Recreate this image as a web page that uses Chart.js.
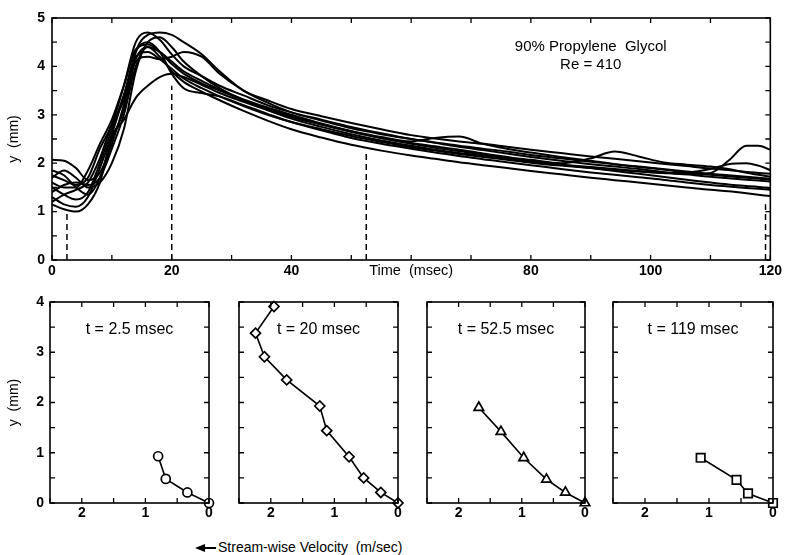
<!DOCTYPE html>
<html>
<head>
<meta charset="utf-8">
<script src="https://cdn.jsdelivr.net/npm/chart.js@4.4.1/dist/chart.umd.min.js"></script>
<style>
    body { margin: 0; background: #fff; }
    #wrap { position: relative; width: 785px; height: 555px; overflow: hidden; }
    canvas { position: absolute; }
    #vel {
        position: absolute; top: 539px; left: 195px;
        font: 14px "Liberation Sans", Arial, sans-serif; color: #000; white-space: pre;
    }
    #vel .head {
        display: inline-block; vertical-align: middle;
        border-top: 4px solid transparent; border-bottom: 4px solid transparent;
        border-right: 10px solid #000;
    }
    #vel .shaft {
        display: inline-block; vertical-align: middle;
        width: 11px; height: 2px; background: #000; margin-right: 2px;
    }
</style>
</head>
<body>
<div id="wrap">
    <canvas id="top" width="785" height="290" style="left:0;top:0"></canvas>
    <canvas id="p1"></canvas>
    <canvas id="p2"></canvas>
    <canvas id="p3"></canvas>
    <canvas id="p4"></canvas>
    <div id="vel"><span class="head"></span><span class="shaft"></span>Stream-wise Velocity  (m/sec)</div>
</div>

<script>
// time samples (msec) shared by all traces of the upper plot
const times = [0, 2, 4, 6, 8, 10, 12, 14, 16, 18, 20, 22, 25, 28, 32, 36, 40, 45, 50, 55,
    60, 64, 68, 72, 76, 80, 85, 90, 94, 98, 102, 106, 110, 113, 116, 118, 120];

// y (mm) of each trace
const run1 = [1.75, 1.65, 1.55, 1.7, 2.3, 2.8, 3.6, 4.5, 4.7, 4.55, 4.25, 4.0, 3.8, 3.6, 3.4, 3.2, 3.05, 2.9, 2.75, 2.62,
    2.5, 2.42, 2.34, 2.27, 2.2, 2.13, 2.05, 1.98, 1.93, 1.88, 1.82, 1.77, 1.72, 1.69, 1.66, 1.64, 1.62];
const run2 = [2.07, 2.05, 1.9, 1.65, 1.8, 2.4, 3.2, 4.3, 4.65, 4.7, 4.65, 4.5, 4.25, 3.9, 3.5, 3.3, 3.12, 2.97, 2.83, 2.7,
    2.58, 2.51, 2.45, 2.4, 2.34, 2.28, 2.21, 2.14, 2.09, 2.04, 1.99, 1.94, 1.89, 1.86, 1.82, 1.8, 1.78];
const run3 = [1.15, 1.05, 1.0, 1.15, 1.6, 2.55, 2.9, 3.35, 3.6, 3.78, 3.85, 3.78, 3.62, 3.45, 3.27, 3.1, 2.95, 2.8, 2.65, 2.52,
    2.42, 2.35, 2.28, 2.2, 2.13, 2.05, 1.97, 1.9, 1.84, 1.78, 1.72, 1.66, 1.6, 1.56, 1.53, 1.51, 1.48];
const run4 = [1.3, 1.15, 1.1, 1.3, 1.9, 2.6, 3.4, 4.3, 4.5, 4.3, 3.85, 3.55, 3.45, 3.38, 3.2, 3.02, 2.85, 2.68, 2.52, 2.4,
    2.3, 2.22, 2.15, 2.08, 2.02, 1.96, 1.88, 1.81, 1.76, 1.71, 1.66, 1.6, 1.55, 1.52, 1.49, 1.47, 1.45];
const run5 = [1.5, 1.35, 1.25, 1.4, 2.0, 2.7, 3.4, 4.1, 4.2, 4.15, 4.2, 4.3, 4.2, 3.85, 3.5, 3.25, 3.05, 2.88, 2.72, 2.6,
    2.5, 2.43, 2.36, 2.3, 2.24, 2.17, 2.1, 2.03, 1.98, 1.93, 1.88, 1.83, 1.78, 1.75, 1.72, 1.7, 1.68];
const run6 = [1.6, 1.5, 1.5, 1.85, 2.4, 2.9, 3.6, 4.35, 4.45, 4.3, 4.05, 3.85, 3.65, 3.5, 3.3, 3.12, 2.97, 2.8, 2.66, 2.54,
    2.45, 2.52, 2.55, 2.4, 2.3, 2.22, 2.13, 2.05, 1.98, 1.92, 1.87, 1.81, 1.76, 1.73, 1.7, 1.68, 1.66];
const run7 = [1.4, 1.55, 1.6, 1.55, 1.7, 2.3, 3.0, 4.0, 4.4, 4.3, 4.1, 3.9, 3.7, 3.52, 3.32, 3.15, 3.0, 2.82, 2.66, 2.52,
    2.4, 2.32, 2.25, 2.18, 2.12, 2.07, 2.0, 2.1, 2.24, 2.14, 2.02, 1.97, 1.93, 1.88, 1.8, 1.76, 1.72];
const run8 = [1.7, 1.85, 1.7, 1.5, 1.6, 2.0, 2.7, 3.9, 4.5, 4.6, 4.4, 4.1, 3.8, 3.55, 3.3, 3.1, 2.92, 2.75, 2.6, 2.47,
    2.36, 2.28, 2.21, 2.15, 2.09, 2.03, 1.97, 1.92, 1.88, 1.84, 1.8, 1.77, 1.8, 2.05, 2.36, 2.36, 2.28];
const run9 = [1.2, 1.35, 1.45, 1.6, 2.1, 2.8, 3.3, 4.2, 4.3, 4.15, 3.95, 3.75, 3.55, 3.38, 3.18, 3.0, 2.85, 2.7, 2.56, 2.44,
    2.33, 2.26, 2.19, 2.13, 2.07, 2.01, 1.95, 1.9, 1.86, 1.83, 1.8, 1.81, 1.88, 1.98, 2.0, 1.95, 1.86];
const run10 = [1.85, 1.75, 1.5, 1.35, 1.7, 2.5, 3.1, 4.15, 4.4, 4.2, 3.9, 3.68, 3.48, 3.3, 3.08, 2.88, 2.7, 2.53, 2.38, 2.26,
    2.16, 2.09, 2.02, 1.96, 1.9, 1.84, 1.77, 1.7, 1.65, 1.6, 1.55, 1.5, 1.45, 1.42, 1.38, 1.35, 1.32];

// dashed markers at the profile times
const markTimes = [2.5, 20, 52.5, 119.2];
const markTops = [1.0, 3.6, 2.2, 1.15];

// velocity profiles (m/sec, mm)
const profTitles = ['t = 2.5 msec', 't = 20 msec', 't = 52.5 msec', 't = 119 msec'];
const velA = [0.8, 0.68, 0.34, 0];
const yA = [0.93, 0.48, 0.21, 0];
const velB = [1.95, 2.24, 2.1, 1.75, 1.23, 1.12, 0.77, 0.54, 0.27, 0];
const yB = [3.91, 3.38, 2.91, 2.45, 1.93, 1.44, 0.92, 0.5, 0.21, 0];
const velC = [1.68, 1.33, 0.97, 0.61, 0.31, 0];
const yC = [1.9, 1.42, 0.9, 0.47, 0.21, 0];
const velD = [1.13, 0.57, 0.39, 0];
const yD = [0.9, 0.46, 0.19, 0];

const FONT = '"Liberation Sans", Arial, sans-serif';
Chart.defaults.font.family = FONT;
Chart.defaults.color = '#000';

// box + inward tick marks on all four sides
const boxTicks = {
    id: 'boxTicks',
    afterDraw(chart) {
        let { ctx, chartArea: a, scales } = chart;
        ctx.save();
        ctx.strokeStyle = '#000';
        ctx.lineWidth = 1.6;
        ctx.strokeRect(a.left, a.top, a.right - a.left, a.bottom - a.top);
        ctx.lineWidth = 1.3;
        ctx.beginPath();
        scales.x.ticks.forEach(t => {
            let px = scales.x.getPixelForValue(t.value);
            ctx.moveTo(px, a.bottom); ctx.lineTo(px, a.bottom - 5);
            ctx.moveTo(px, a.top); ctx.lineTo(px, a.top + 5);
        });
        scales.y.ticks.forEach(t => {
            let py = scales.y.getPixelForValue(t.value);
            ctx.moveTo(a.left, py); ctx.lineTo(a.left + 5, py);
            ctx.moveTo(a.right, py); ctx.lineTo(a.right - 5, py);
        });
        ctx.stroke();
        ctx.restore();
    }
};

function toPts(xs, ys) {
    return xs.map((x, i) => ({ x: x, y: ys[i] }));
}

const noGrid = { display: false, drawTicks: false };

// ---------- upper plot ----------
const runs = [run1, run2, run3, run4, run5, run6, run7, run8, run9, run10];
let topSets = runs.map(r => ({
    data: toPts(times, r),
    borderColor: '#000',
    borderWidth: 2,
    pointRadius: 0,
    cubicInterpolationMode: 'monotone'
}));
markTimes.forEach((t, i) => {
    topSets.push({
        data: [{ x: t, y: 0 }, { x: t, y: markTops[i] }],
        borderColor: '#000',
        borderWidth: 1.5,
        borderDash: [6, 4],
        pointRadius: 0
    });
});

const topLabels = {
    id: 'topLabels',
    afterDraw(chart) {
        let { ctx, scales } = chart;
        ctx.save();
        ctx.fillStyle = '#000';
        ctx.textAlign = 'center';
        ctx.textBaseline = 'middle';
        ctx.font = '15px ' + FONT;
        let cx = scales.x.getPixelForValue(90);
        ctx.fillText('90% Propylene  Glycol', cx, 47);
        ctx.fillText('Re = 410', cx, 65);
        ctx.font = '14.5px ' + FONT;
        ctx.fillText('Time  (msec)', scales.x.getPixelForValue(60), chart.chartArea.bottom + 11);
        ctx.restore();
    }
};

new Chart(document.getElementById('top'), {
    type: 'line',
    data: { datasets: topSets },
    options: {
        responsive: false,
        animation: false,
        layout: { padding: { top: 18, right: 8, left: 0, bottom: 0 } },
        plugins: { legend: { display: false }, tooltip: { enabled: false } },
        scales: {
            x: {
                type: 'linear', min: 0, max: 120,
                grid: noGrid, border: { display: false },
                ticks: {
                    stepSize: 10, padding: 3, maxRotation: 0, autoSkip: false,
                    font: { size: 14, weight: 'bold' },
                    callback: v => (v % 20 === 0 && v !== 60 ? v : '')
                },
                afterFit: s => { s.height = 30; }
            },
            y: {
                min: 0, max: 5,
                grid: noGrid, border: { display: false },
                title: { display: true, text: 'y  (mm)', font: { size: 14 }, padding: { top: 6, bottom: 0 } },
                ticks: {
                    stepSize: 0.5, padding: 7, autoSkip: false,
                    font: { size: 14, weight: 'bold' },
                    callback: v => (Number.isInteger(v) ? v : '')
                },
                afterFit: s => { s.width = 52; }
            }
        }
    },
    plugins: [boxTicks, topLabels]
});

// ---------- profile panels ----------
const panelTitle = {
    id: 'panelTitle',
    afterDraw(chart) {
        let { ctx, chartArea: a } = chart;
        ctx.save();
        ctx.fillStyle = '#000';
        ctx.textAlign = 'center';
        ctx.textBaseline = 'middle';
        ctx.font = '16px ' + FONT;
        ctx.fillText(chart.options.panelText, (a.left + a.right) / 2, a.top + 28);
        ctx.restore();
    }
};

// plot-area left/right of each panel inside the page
const panels = [
    { id: 'p1', areaL: 50, areaR: 209, vel: velA, ys: yA, marker: 'circle', size: 4.5, showY: true },
    { id: 'p2', areaL: 239, areaR: 398, vel: velB, ys: yB, marker: 'rectRot', size: 5, showY: false },
    { id: 'p3', areaL: 427, areaR: 585, vel: velC, ys: yC, marker: 'triangle', size: 5.5, showY: false },
    { id: 'p4', areaL: 613, areaR: 773, vel: velD, ys: yD, marker: 'rect', size: 6, showY: false }
];

panels.forEach((p, k) => {
    let cv = document.getElementById(p.id);
    let yW = p.showY ? 50 : 0;
    let padL = p.showY ? 0 : 10;
    let left = p.areaL - yW - padL;
    let padR = 12;
    let w = p.areaR + padR - left;
    cv.width = w;
    cv.height = 240;
    cv.style.left = left + 'px';
    cv.style.top = '285px';

    new Chart(cv, {
        type: 'line',
        data: {
            datasets: [{
                data: toPts(p.vel, p.ys),
                borderColor: '#000',
                borderWidth: 1.6,
                pointStyle: p.marker,
                pointRadius: p.size,
                pointBorderWidth: 1.7,
                pointBackgroundColor: '#fff',
                pointBorderColor: '#000',
                clip: false
            }]
        },
        options: {
            responsive: false,
            animation: false,
            panelText: profTitles[k],
            layout: { padding: { top: 17, right: padR, left: padL, bottom: 0 } },
            plugins: { legend: { display: false }, tooltip: { enabled: false } },
            scales: {
                x: {
                    type: 'linear', min: 0, max: 2.5, reverse: true,
                    grid: noGrid, border: { display: false },
                    ticks: {
                        stepSize: 0.5, padding: 2, maxRotation: 0, autoSkip: false,
                        font: { size: 14, weight: 'bold' },
                        callback: v => (Number.isInteger(v) ? v : '')
                    },
                    afterFit: s => { s.height = 22; }
                },
                y: {
                    min: 0, max: 4,
                    grid: noGrid, border: { display: false },
                    title: { display: p.showY, text: 'y  (mm)', font: { size: 14 }, padding: { top: 6, bottom: 0 } },
                    ticks: {
                        display: p.showY,
                        stepSize: 0.5, padding: 6, autoSkip: false,
                        font: { size: 14, weight: 'bold' },
                        callback: v => (Number.isInteger(v) ? v : '')
                    },
                    afterFit: s => { s.width = yW; }
                }
            }
        },
        plugins: [boxTicks, panelTitle]
    });
});
</script>
</body>
</html>
